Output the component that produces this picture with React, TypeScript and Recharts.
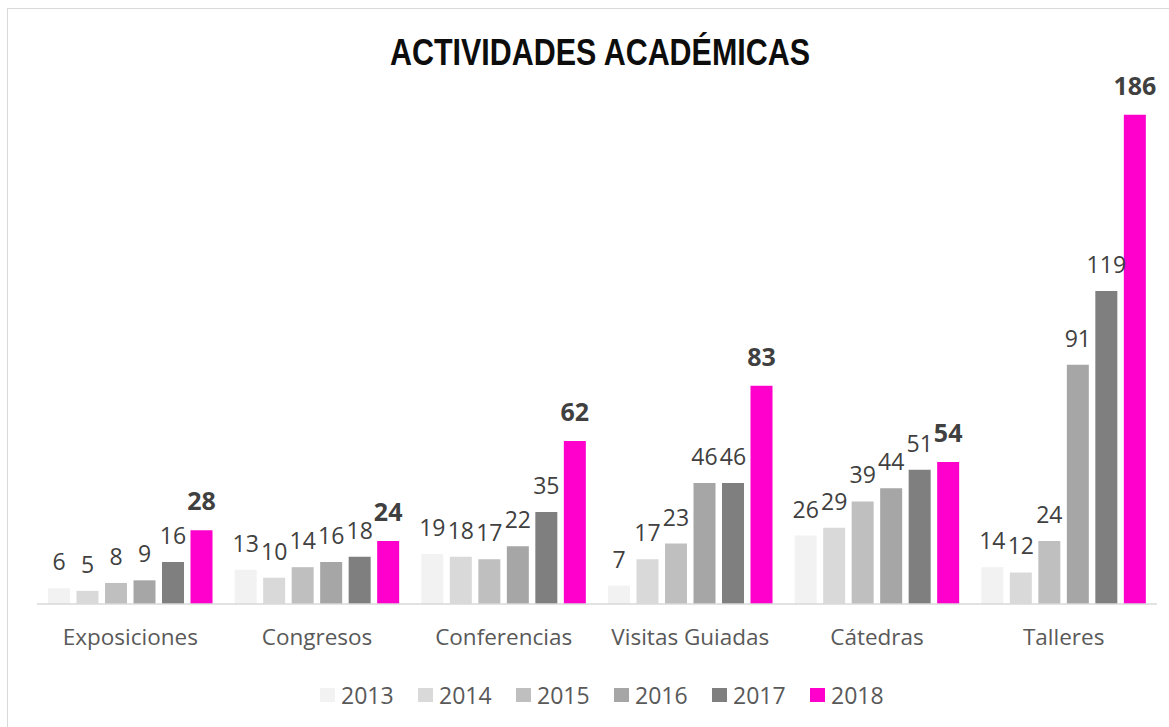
import React from 'react';
import { BarChart, Bar, XAxis, YAxis, Legend, LabelList } from 'recharts';

const categories = ['Exposiciones', 'Congresos', 'Conferencias', 'Visitas Guiadas', 'Cátedras', 'Talleres'];
const years = ['2013', '2014', '2015', '2016', '2017', '2018'];
const v2013 = [6, 13, 19, 7, 26, 14];
const v2014 = [5, 10, 18, 17, 29, 12];
const v2015 = [8, 14, 17, 23, 39, 24];
const v2016 = [9, 16, 22, 46, 44, 91];
const v2017 = [16, 18, 35, 46, 51, 119];
const v2018 = [28, 24, 62, 83, 54, 186];
const colors = ['#F2F2F2', '#D9D9D9', '#BFBFBF', '#A6A6A6', '#7F7F7F', '#FF00CC'];
const seriesValues = [v2013, v2014, v2015, v2016, v2017, v2018];

const data = categories.map((c, i) => {
  const row: Record<string, string | number> = { name: c };
  years.forEach((y, k) => {
    row[y] = seriesValues[k][i];
  });
  return row;
});

const FONT = '"Open Sans", "Liberation Sans", sans-serif';

const renderLegend = () => (
  <div
    style={{
      display: 'flex',
      height: 30,
      alignItems: 'center',
      fontFamily: FONT,
      fontSize: 23,
      color: '#595959',
    }}
  >
    {years.map((y, i) => (
      <div key={y} style={{ display: 'flex', alignItems: 'center', width: 98, flex: '0 0 98px' }}>
        <span
          style={{ width: 14.5, height: 14.5, background: colors[i], marginRight: 6.5, display: 'inline-block' }}
        />
        <span style={{ lineHeight: '30px' }}>{y}</span>
      </div>
    ))}
  </div>
);

export default function App() {
  return (
    <div
      style={{
        position: 'absolute',
        left: 0,
        top: 0,
        width: 1169,
        height: 727,
        overflow: 'hidden',
        background: '#FFFFFF',
      }}
    >
      <div
        style={{
          position: 'absolute',
          left: 7,
          top: 8,
          width: 1200,
          height: 800,
          border: '1px solid #D9D9D9',
        }}
      />
      <div style={{ position: 'absolute', left: 0, top: 0 }}>
        <BarChart
          width={1169}
          height={727}
          data={data}
          margin={{ top: 78, right: 12, bottom: 17, left: 37 }}
          barCategoryGap={11}
          barGap={6.5}
        >
          <XAxis
            dataKey="name"
            axisLine={{ stroke: '#D9D9D9', strokeWidth: 1.5 }}
            tickLine={false}
            tickMargin={19}
            height={76}
            interval={0}
            tick={{ fill: '#595959', fontSize: 22.5, fontFamily: FONT }}
          />
          <YAxis hide domain={[0, 200]} />
          <Legend
            verticalAlign="bottom"
            content={renderLegend}
            wrapperStyle={{ left: 320, width: 620 }}
          />
          {years.map((y, i) => (
            <Bar key={y} dataKey={y} fill={colors[i]} isAnimationActive={false}>
              <LabelList
                dataKey={y}
                position="top"
                offset={y === '2018' ? 20 : 18}
                style={{
                  fill: '#404040',
                  fontSize: y === '2018' ? 25 : 23,
                  fontFamily: FONT,
                  fontWeight: y === '2018' ? 700 : 400,
                }}
              />
            </Bar>
          ))}
        </BarChart>
      </div>
      <svg
        width={1169}
        height={100}
        style={{ position: 'absolute', left: 0, top: 0, pointerEvents: 'none' }}
      >
        <text
          x={390}
          y={65}
          textLength={420}
          lengthAdjust="spacingAndGlyphs"
          fontFamily='"Liberation Sans", Arial, sans-serif'
          fontWeight={700}
          fontSize={37}
          fill="#0D0D0D"
        >
          ACTIVIDADES ACADÉMICAS
        </text>
      </svg>
    </div>
  );
}
